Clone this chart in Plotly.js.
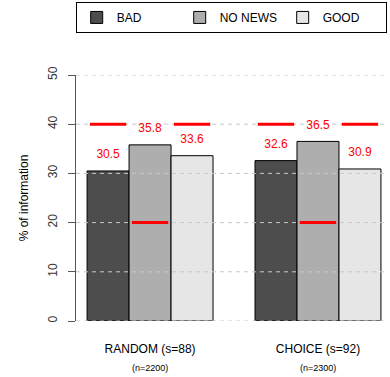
<!DOCTYPE html>
<html>
<head>
<meta charset="utf-8">
<script src="https://cdn.plot.ly/plotly-3.0.1.min.js"></script>
<style>html,body{margin:0;padding:0;background:#fff;}#chart{width:390px;height:377px;}</style>
</head>
<body>
<div id="chart"></div>
<script>
const categories = ['RANDOM (s=88)', 'CHOICE (s=92)'];
const sampleSizes = ['(n=2200)', '(n=2300)'];
const seriesNames = ['BAD', 'NO NEWS', 'GOOD'];
const badValues = [30.5, 32.6];
const noNewsValues = [35.8, 36.5];
const goodValues = [33.6, 30.9];
const predBad = [40, 40];
const predNoNews = [20, 20];
const predGood = [40, 40];
const yTicks = [0, 10, 20, 30, 40, 50];

const colors = ['#4D4D4D', '#AEAEAE', '#E6E6E6'];
const values = [badValues, noNewsValues, goodValues];
const preds = [predBad, predNoNews, predGood];
const groups = ['bad', 'news', 'good'];
const FONT = '"Liberation Sans", Arial, Helvetica, sans-serif';
const XRANGE = [-0.441, 1.417];
const catPos = categories.map((c, i) => i);

const traces = [];
values.forEach((v, i) => {
  traces.push({
    type: 'bar', x: catPos, y: v, name: seriesNames[i],
    offsetgroup: groups[i],
    marker: {color: colors[i], line: {color: '#000', width: 1}},
    hoverinfo: 'skip'
  });
});
// dashed horizontal reference grid drawn above the bars (as in the original)
const gx = [], gy = [];
yTicks.forEach(t => { gx.push(XRANGE[0], XRANGE[1], null); gy.push(t, t, null); });
traces.push({
  type: 'scatter', mode: 'lines', x: gx, y: gy, orientation: 'h',
  showlegend: false, hoverinfo: 'skip', cliponaxis: false,
  line: {color: '#c8c8c8', width: 1, dash: '4px,4px'}
});
values.forEach((v, i) => {
  traces.push({
    type: 'scatter', mode: 'markers+text', x: catPos, y: v,
    offsetgroup: groups[i], showlegend: false,
    text: v.map(n => n.toFixed(1)), textposition: 'top center',
    textfont: {color: '#ff0000', size: 12, family: FONT},
    marker: {size: 14, opacity: 0},
    hoverinfo: 'skip', cliponaxis: false
  });
});
preds.forEach((p, i) => {
  traces.push({
    type: 'scatter', mode: 'markers', x: catPos, y: p,
    offsetgroup: groups[i], showlegend: false,
    marker: {symbol: 'line-ew', size: 26, line: {color: '#ff0000', width: 3}},
    hoverinfo: 'skip', cliponaxis: false
  });
});

const annotations = sampleSizes.map((s, i) => ({
  x: catPos[i], xref: 'x', y: -0.19, yref: 'paper',
  text: s, showarrow: false, yanchor: 'middle',
  font: {size: 9, family: FONT, color: '#000'}
}));

const layout = {
  width: 390, height: 377,
  margin: {l: 76, r: 2, t: 75, b: 56},
  paper_bgcolor: '#fff', plot_bgcolor: '#fff',
  font: {family: FONT, size: 12, color: '#000'},
  barmode: 'group', bargap: 0.25, bargroupgap: 0,
  scattermode: 'group', scattergap: 0.25,
  hovermode: false,
  showlegend: true,
  legend: {
    orientation: 'h', x: -0.001, xanchor: 'left', y: 1.297, yanchor: 'top',
    bordercolor: '#000', borderwidth: 1, entrywidth: 58,
    font: {size: 12, family: FONT, color: '#000'}
  },
  xaxis: {
    type: 'linear', range: XRANGE, tickvals: catPos, ticktext: categories,
    showgrid: false, showline: false, zeroline: false, ticks: '',
    tickfont: {size: 12, family: FONT, color: '#000'},
    ticklabelstandoff: 19, fixedrange: true
  },
  yaxis: {
    range: [0, 50], tickvals: yTicks, ticktext: yTicks.map(String),
    ticks: 'outside', ticklen: 7, tickcolor: '#555', tickwidth: 1,
    showline: true, linecolor: '#555', linewidth: 1,
    showgrid: false, zeroline: false, tickangle: -90,
    ticklabelstandoff: 6,
    tickfont: {size: 12, family: FONT, color: '#333'},
    title: {text: '% of information', font: {size: 12, family: FONT, color: '#000'}, standoff: 15},
    fixedrange: true
  },
  annotations: annotations
};

Plotly.newPlot('chart', traces, layout, {displayModeBar: false, staticPlot: true});
</script>
</body>
</html>
